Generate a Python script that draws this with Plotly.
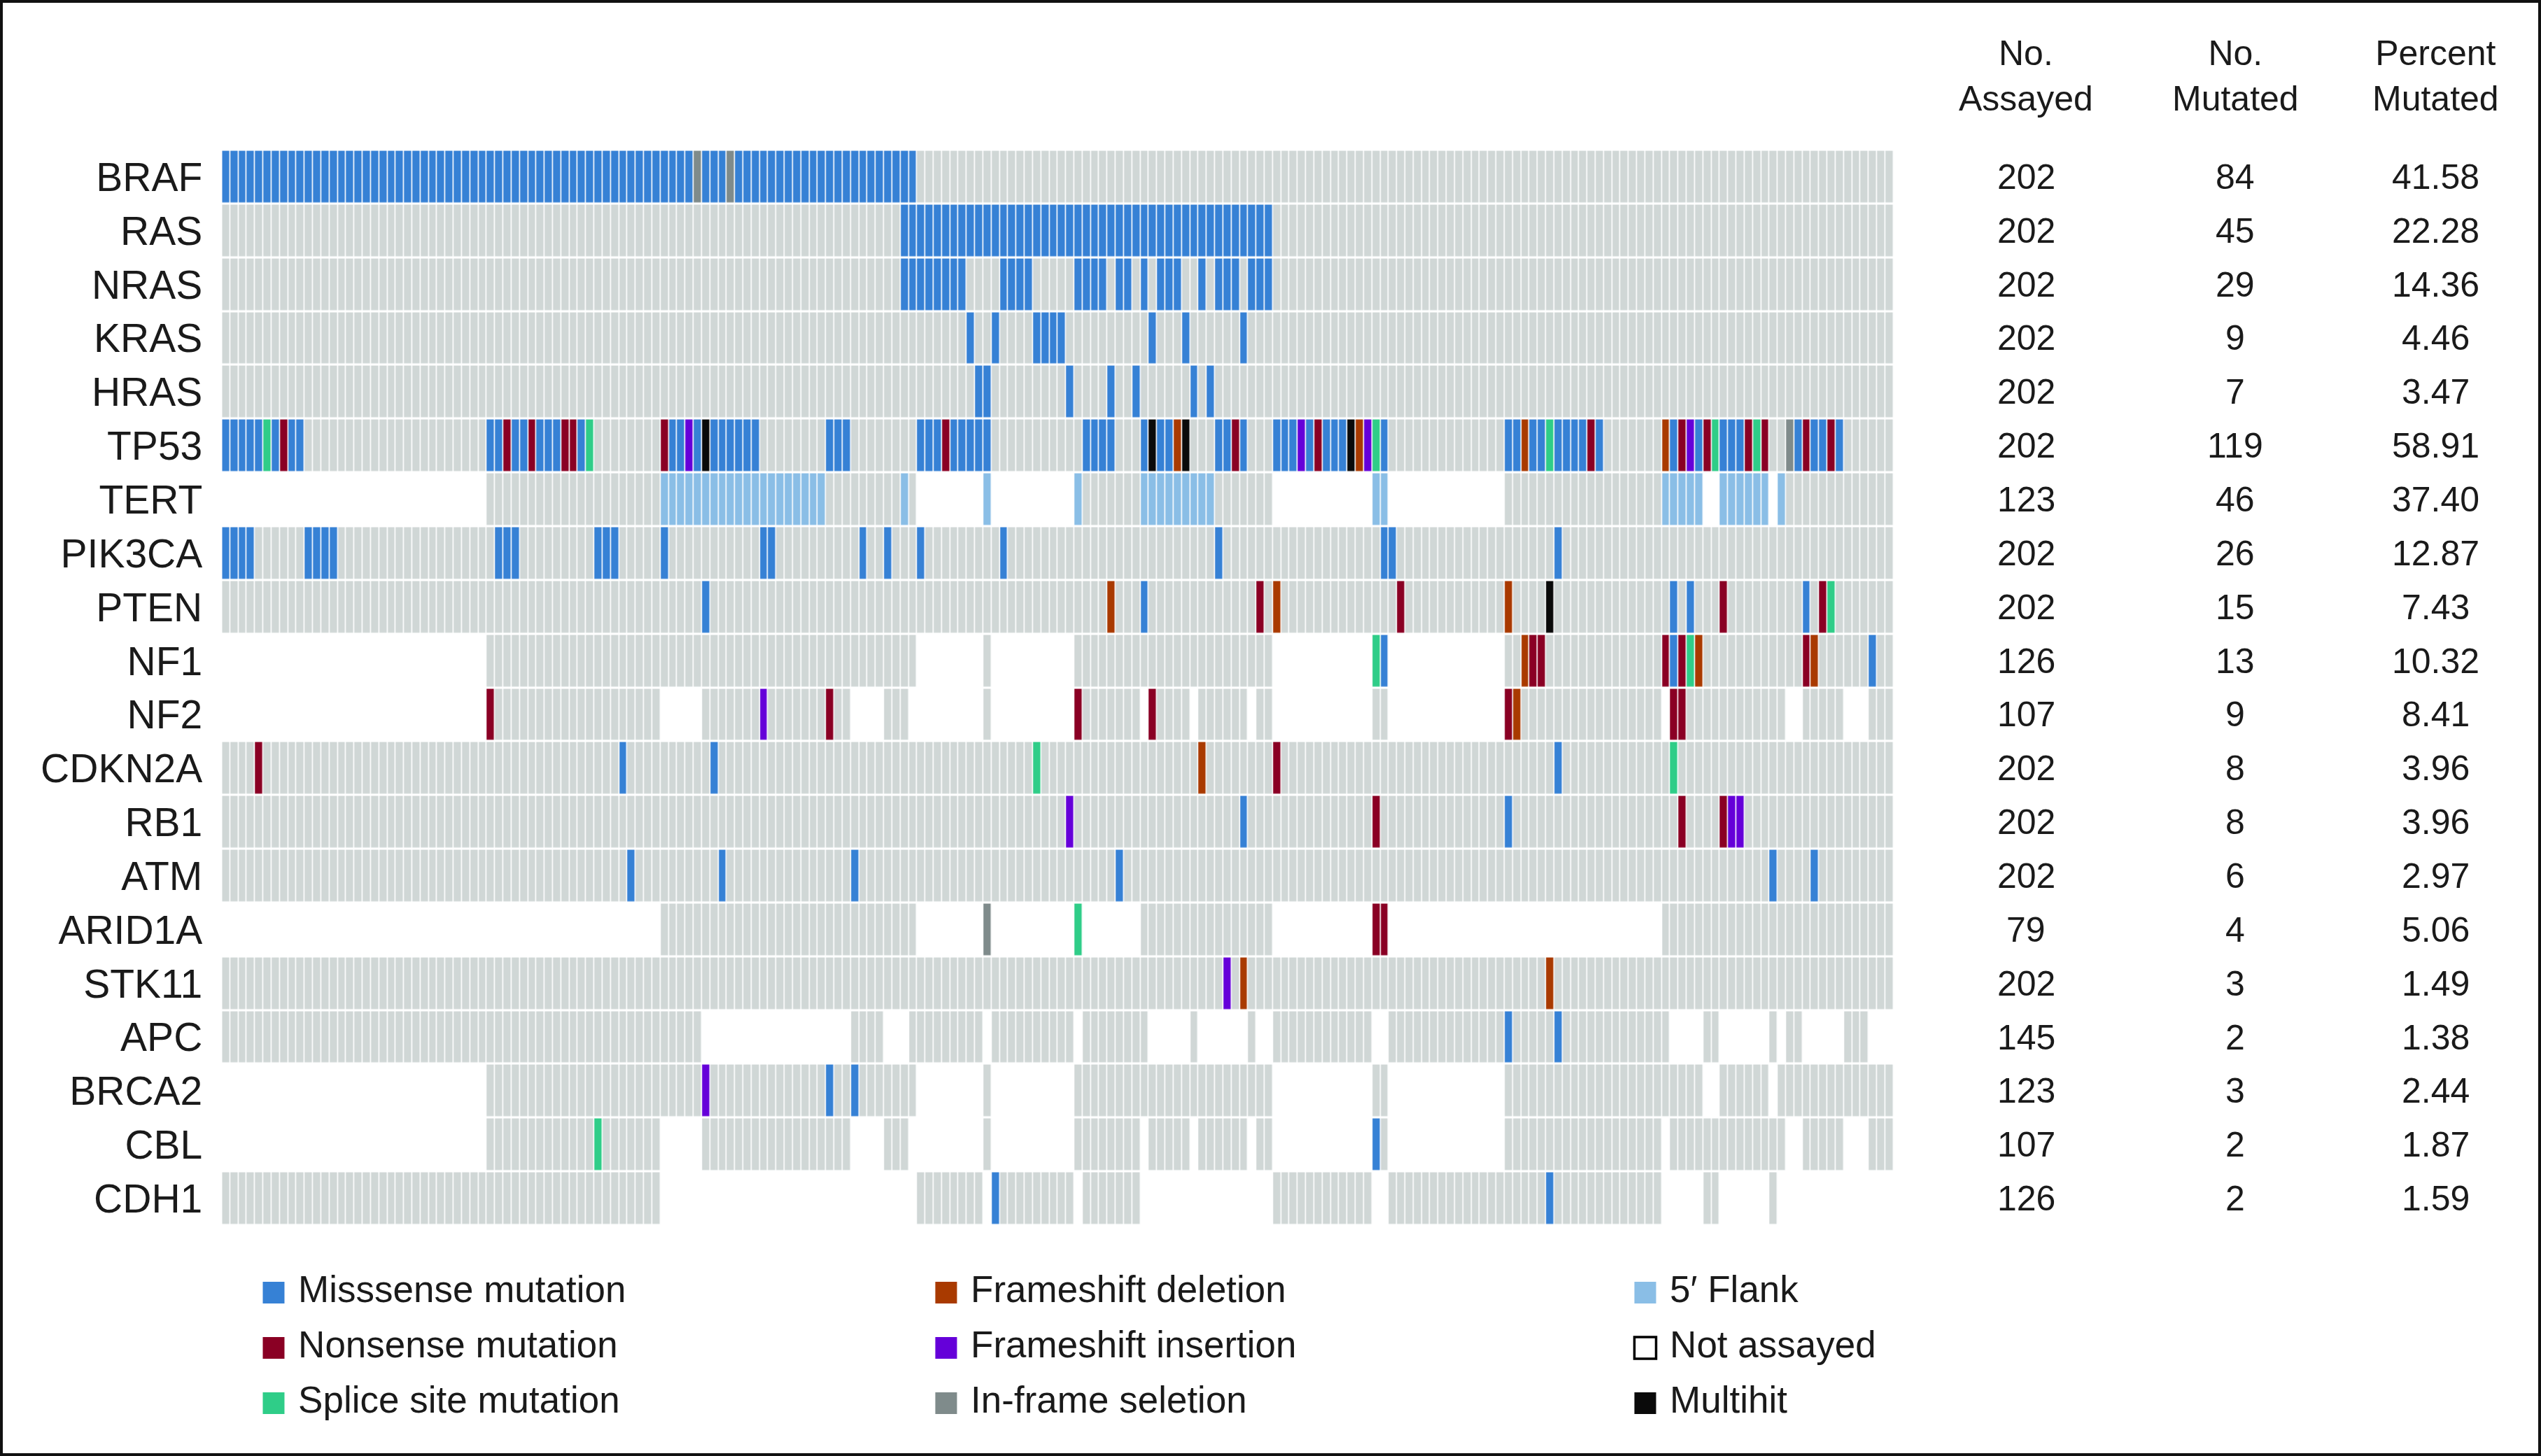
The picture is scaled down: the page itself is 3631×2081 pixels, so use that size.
import plotly.graph_objects as go
import numpy as np

# ---------------- data ----------------
genes = ["BRAF", "RAS", "NRAS", "KRAS", "HRAS", "TP53", "TERT", "PIK3CA", "PTEN", "NF1",
         "NF2", "CDKN2A", "RB1", "ATM", "ARID1A", "STK11", "APC", "BRCA2", "CBL", "CDH1"]
n_assayed = [202, 202, 202, 202, 202, 202, 123, 202, 202, 126,
             107, 202, 202, 202, 79, 202, 145, 123, 107, 126]
n_mutated = [84, 45, 29, 9, 7, 119, 46, 26, 15, 13,
             9, 8, 8, 6, 4, 3, 2, 3, 2, 2]
pct_mutated = [41.58, 22.28, 14.36, 4.46, 3.47, 58.91, 37.40, 12.87, 7.43, 10.32,
               8.41, 3.96, 3.96, 2.97, 5.06, 1.49, 1.38, 2.44, 1.87, 1.59]
n_samples = 202


def rng(a, b):
    return list(range(a, b + 1))


# mutation type codes: M missense, N nonsense, S splice site, D frameshift deletion,
# I frameshift insertion, F in-frame deletion, T 5' flank, H multihit
mutations = {
    "BRAF": {"M": rng(0, 56) + rng(58, 60) + rng(62, 83), "F": [57, 61]},
    "RAS": {"M": rng(82, 126)},
    "NRAS": {"M": rng(82, 89) + rng(94, 97) + rng(103, 106) + [108, 109, 111] + rng(113, 115)
             + [118] + rng(120, 122) + rng(124, 126)},
    "KRAS": {"M": [90, 93, 98, 99, 100, 101, 112, 116, 123]},
    "HRAS": {"M": [91, 92, 102, 107, 110, 117, 119]},
    "TP53": {
        "M": rng(0, 4) + [6, 8, 9, 32, 33, 35, 36, 38, 39, 40, 43, 54, 55, 57] + rng(59, 64)
        + rng(73, 75) + rng(84, 86) + rng(88, 92) + rng(104, 107)
        + [111, 113, 114, 120, 121, 123, 127, 128, 129, 131, 133, 134, 135, 140,
           155, 156, 158, 159, 161, 162, 163, 164, 166, 175, 178, 181, 182, 183,
           190, 192, 193, 195],
        "N": [7, 34, 37, 41, 42, 53, 87, 122, 132, 165, 176, 179, 184, 186, 191, 194],
        "S": [5, 44, 139, 160, 180, 185],
        "D": [115, 137, 157, 174],
        "I": [56, 130, 138, 177],
        "F": [189],
        "H": [58, 112, 116, 136],
    },
    "TERT": {"T": rng(53, 72) + [82, 92, 103] + rng(111, 119) + [139, 140]
             + rng(174, 178) + rng(181, 186) + [188]},
    "PIK3CA": {"M": rng(0, 3) + rng(10, 13) + rng(33, 35) + rng(45, 47)
               + [53, 65, 66, 77, 80, 84, 94, 120, 140, 141, 161]},
    "PTEN": {"M": [58, 111, 175, 177, 191], "N": [125, 142, 181, 193],
             "D": [107, 127, 155], "S": [194], "H": [160]},
    "NF1": {"M": [140, 175, 199], "N": [158, 159, 174, 176, 191], "S": [139, 177],
            "D": [157, 178, 192]},
    "NF2": {"N": [32, 73, 103, 112, 155, 175, 176], "I": [65], "D": [156]},
    "CDKN2A": {"N": [4, 127], "M": [48, 59, 161], "S": [98, 175], "D": [118]},
    "RB1": {"I": [102, 182, 183], "M": [123, 155], "N": [139, 176, 181]},
    "ATM": {"M": [49, 60, 76, 108, 187, 192]},
    "ARID1A": {"F": [92], "S": [103], "N": [139, 140]},
    "STK11": {"I": [121], "D": [123, 160]},
    "APC": {"M": [155, 161]},
    "BRCA2": {"I": [58], "M": [73, 76]},
    "CBL": {"S": [45], "M": [139]},
    "CDH1": {"M": [93, 160]},
}

na_tert = [(0, 31), (84, 91), (93, 102), (127, 138), (141, 154), (179, 180), (187, 187)]
na_nf1 = [(0, 31), (84, 91), (93, 102), (127, 138), (141, 154)]
na_nf2 = [(0, 31), (53, 57), (76, 79), (83, 91), (93, 102), (111, 111), (117, 117),
          (124, 124), (127, 138), (141, 154), (174, 174), (189, 190), (196, 198)]
not_assayed = {
    "TERT": na_tert,
    "NF1": na_nf1,
    "NF2": na_nf2,
    "ARID1A": [(0, 52), (84, 91), (93, 102), (104, 110), (127, 138), (141, 173)],
    "APC": [(58, 75), (80, 82), (92, 92), (103, 103), (112, 116), (118, 123), (125, 126),
            (139, 140), (175, 178), (181, 186), (188, 188), (191, 195), (199, 201)],
    "BRCA2": na_tert,
    "CBL": na_nf2,
    "CDH1": [(53, 83), (92, 92), (103, 103), (111, 126), (139, 140), (174, 178),
             (181, 186), (188, 201)],
}

# categories (code index) and colours
cat_codes = ["WT", "NA", "M", "N", "S", "D", "I", "F", "T", "H"]
cat_colors = ["#d0d7d6", "#ffffff", "#3681d5", "#8a0024", "#2fcd88", "#a93a00",
              "#6500d9", "#7f8b8b", "#8abee6", "#0a0a0a"]

legend_labels = ["Misssense mutation", "Nonsense mutation", "Splice site mutation",
                 "Frameshift deletion", "Frameshift insertion", "In-frame seletion",
                 "5\u2032 Flank", "Not assayed", "Multihit"]
legend_codes = ["M", "N", "S", "D", "I", "F", "T", "NA", "H"]

# ---------------- build matrix ----------------
z = np.zeros((len(genes), n_samples))
for gi, g in enumerate(genes):
    for a, b in not_assayed.get(g, []):
        z[gi, a:b + 1] = cat_codes.index("NA")
    for code, cols in mutations.get(g, {}).items():
        for c in cols:
            z[gi, c] = cat_codes.index(code)

ncat = len(cat_codes)
colorscale = []
for i, col in enumerate(cat_colors):
    colorscale.append([i / ncat, col])
    colorscale.append([(i + 1) / ncat, col])

W, H = 3631, 2081
FONT = "Liberation Sans, Arial, sans-serif"
TXT = "#1a1a1a"

fig = go.Figure()
fig.add_trace(go.Heatmap(
    z=z, x=list(range(n_samples)), y=genes,
    colorscale=colorscale, zmin=-0.5, zmax=ncat - 0.5,
    showscale=False, xgap=1.6, ygap=3.2, hoverinfo="skip",
))

# legend: three columns of three entries, drawn as a scatter on its own axes
legend_col_px = [391, 1352, 2351]       # swatch centres of the three legend columns
lg_x = [legend_col_px[i // 3] for i in range(len(legend_labels))]
lg_y = [i % 3 for i in range(len(legend_labels))]
lg_col = [cat_colors[cat_codes.index(c)] for c in legend_codes]
lg_line = ["#000000" if c == "NA" else cat_colors[cat_codes.index(c)] for c in legend_codes]
lg_lw = [3.5 if c == "NA" else 0 for c in legend_codes]
fig.add_trace(go.Scatter(
    x=lg_x, y=lg_y, mode="markers+text", xaxis="x2", yaxis="y2",
    marker=dict(symbol="square", size=31, color=lg_col,
                line=dict(color=lg_line, width=lg_lw)),
    text=[" " + t for t in legend_labels], textposition="middle right",
    textfont=dict(family=FONT, size=53, color=TXT),
    hoverinfo="skip", showlegend=False, cliponaxis=False,
))

# grid geometry (paper fractions)
gx0, gx1 = 317.3 / W, 2706.0 / W
gy_top, gy_bot = 214.5, 1751.5

# right-hand table
col_x = [2895 / W, 3194 / W, 3480 / W]
headers = ["No.<br>Assayed", "No.<br>Mutated", "Percent<br>Mutated"]
annotations = []
for cx, htxt in zip(col_x, headers):
    annotations.append(dict(x=cx, y=1 - 109 / H, xref="paper", yref="paper", text=htxt,
                            showarrow=False, xanchor="center", yanchor="middle",
                            font=dict(family=FONT, size=50, color=TXT)))
for g, a, m, p in zip(genes, n_assayed, n_mutated, pct_mutated):
    for cx, val in zip(col_x, [str(a), str(m), f"{p:.2f}"]):
        annotations.append(dict(x=cx, y=g, xref="paper", yref="y", text=val,
                                showarrow=False, xanchor="center", yanchor="middle",
                                font=dict(family=FONT, size=50, color=TXT)))

fig.update_layout(
    width=W, height=H, margin=dict(l=0, r=0, t=0, b=0),
    paper_bgcolor="white", plot_bgcolor="white",
    xaxis=dict(domain=[gx0, gx1], range=[-0.5, n_samples - 0.5], showticklabels=False,
               showgrid=False, zeroline=False, ticks="", fixedrange=True),
    yaxis=dict(domain=[1 - gy_bot / H, 1 - gy_top / H], range=[len(genes) - 0.5, -0.5],
               type="category", showgrid=False, zeroline=False, ticks="",
               tickfont=dict(family=FONT, size=57, color=TXT), ticklabelstandoff=27),
    xaxis2=dict(domain=[0, 1], range=[0, W], visible=False, anchor="y2"),
    yaxis2=dict(domain=[1 - 2045 / H, 1 - 1808 / H], range=[2.5, -0.5], visible=False,
                anchor="x2"),
    annotations=annotations,
    shapes=[dict(type="rect", xref="paper", yref="paper", x0=0, x1=1, y0=0, y1=1,
                 line=dict(color="#111111", width=8), fillcolor="rgba(0,0,0,0)")],
)

fig.write_html("out.html", config={"displayModeBar": False},
               post_script="document.body.style.margin='0px';"
                           "document.body.style.overflow='hidden';")
